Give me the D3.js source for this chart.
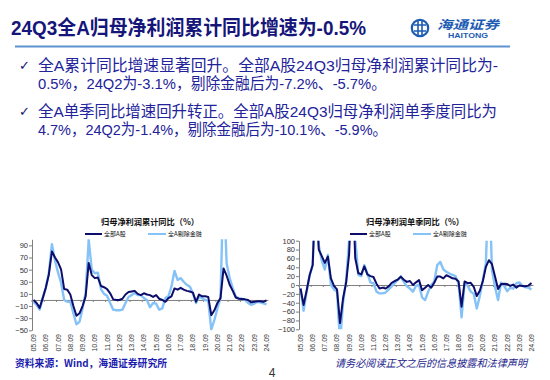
<!DOCTYPE html>
<html><head><meta charset="utf-8">
<script src="https://cdn.jsdelivr.net/npm/d3@7/dist/d3.min.js"></script>
<style>body{margin:0;background:#fff}svg{display:block}</style>
</head><body>
<svg id="c" width="550" height="380"></svg>
<script>
// ---------- DATA ----------
const pageTitle = "24Q3全A归母净利润累计同比增速为-0.5%";
const bulletLines = [
  "全A累计同比增速显著回升。全部A股24Q3归母净利润累计同比为-",
  "0.5%，24Q2为-3.1%，剔除金融后为-7.2%、-5.7%。",
  "全A单季同比增速回升转正。全部A股24Q3归母净利润单季度同比为",
  "4.7%，24Q2为-1.4%，剔除金融后为-10.1%、-5.9%。"
];
const seriesNames = ["全部A股", "全A剔除金融"];
const chartTitles = ["归母净利润累计同比（%）", "归母净利润单季同比（%）"];
const sourceText = "资料来源：Wind，海通证券研究所";
const disclaimer = "请务必阅读正文之后的信息披露和法律声明";
const pageNo = "4";

// quarter-end categories 05.09 ... 24.09
const categories = [];
for (let y = 5; y <= 24; y++) {
  for (const m of ["03", "06", "09", "12"]) {
    if ((y === 5 && (m === "03" || m === "06")) || (y === 24 && m === "12")) continue;
    categories.push(String(y).padStart(2, "0") + "." + m);
  }
}
const tickLabels = categories.filter(c => c.endsWith(".09"));
const leftTicks = [90, 70, 50, 30, 10, -10, -30, -50];
const rightTicks = [100, 80, 60, 40, 20, 0, -20, -40, -60, -80, -100];

// cumulative YoY (%)
const cumAll = [0,-5,-13,3,20,42,80,70,62,50,
  18,17,9,-10,-26,-22,-10,6,61,41,
  36,37,23,21,18,11,1,0,0,2,
  9,13,14,15,10,8,11,9,8,5,
  8,2,0,-3,3,6,19,17,20,17,
  15,14,12,-3,9,6,6,5,-25,-17,
  -5,3,52,40,25,15,4,2,1.5,1,
  0,-4,-3,-2,-2,-3.1,-0.5];
const cumExFin = [-3,-8,-16,3,20,45,92,65,45,28,
  0,-3,-3,-22,-40,-36,-14,12,99,50,
  44,45,18,10,7,-5,-16,-17,-17,-16,
  -5,5,8,12,8,8,3,0,-12,-5,
  -6,-16,-14,3,6,22,48,33,36,30,
  25,22,11,-5,5,3,0,-2,-49,-33,
  -14,3,200,60,36,19,5,3,2,0,
  -5,-8,-6,-3,-4,-5.7,-7.2];
// single-quarter YoY (%)
const qtrAll = [-8,-45,-13,22,45,220,80,65,50,64,
  15,-2,-10,-86,-30,5,70,250,61,27,
  24,42,24,20,18,3,-8,-6,-8,-3,
  5,9,12,19,12,7,9,0,6,11,
  -12,-6,0,-6,5,19,19,15,22,19,
  15,14,8,-49,8,4,5,-4,-25,-13,
  9,41,56,47,19,-9,2,3,2,-2,
  1,-6,-1,-2,-3,-1.4,4.7];
const qtrExFin = [-8,-58,-16,22,45,250,90,55,35,68,
  0,-10,-15,-130,-40,10,100,300,105,23,
  20,45,26,6,4,-15,-19,-19,-17,-10,
  -3,4,12,19,7,-3,-8,-15,-2,0,
  -28,-34,-15,0,8,45,52,35,30,26,
  23,20,3,-73,4,-2,-15,-20,-53,-25,
  11,50,250,34,-4,-34,5,-2,-14,-6,
  -8,4,6,-2,-5,-5.9,-10.1];

// ---------- DRAW ----------
const svg = d3.select("#c");
const FONT = "'Liberation Sans', Arial, 'Noto Sans CJK SC', sans-serif";
const CJK = "'Noto Sans CJK SC', 'Liberation Sans', sans-serif";
const navy = "#0d0d6b", light = "#85c2f7";

svg.append("rect").attr("width", 550).attr("height", 380).attr("fill", "#fff");

// header title
svg.append("text").attr("x", 11).attr("y", 35)
  .attr("font-family", FONT).attr("font-weight", "bold").attr("font-size", 20)
  .attr("fill", "#15157a").attr("textLength", 355).attr("lengthAdjust", "spacingAndGlyphs")
  .text(pageTitle);
svg.append("line").attr("x1", 15).attr("x2", 510).attr("y1", 46.5).attr("y2", 46.5)
  .attr("stroke", "#5f92d2").attr("stroke-width", 2);

// logo
const logo = svg.append("g");
logo.append("circle").attr("cx", 420).attr("cy", 28).attr("r", 8.2)
  .attr("fill", "none").attr("stroke", "#1c5cb2").attr("stroke-width", 2.2);
logo.append("path").attr("d", "M414,25 H426 M414,31 H426 M418,21 V35 M422,21 V35")
  .attr("stroke", "#1c5cb2").attr("stroke-width", 1.6).attr("fill", "none");
logo.append("text").attr("x", 437).attr("y", 29).attr("font-family", CJK)
  .attr("font-style", "italic").attr("font-weight", "bold").attr("font-size", 12)
  .attr("fill", "#1c5cb2").attr("textLength", 62).attr("lengthAdjust", "spacingAndGlyphs").text("海通证券");
logo.append("text").attr("x", 448).attr("y", 38).attr("font-family", FONT)
  .attr("font-weight", "bold").attr("font-size", 7).attr("fill", "#1c5cb2")
  .attr("textLength", 40).attr("lengthAdjust", "spacingAndGlyphs").text("HAITONG");

// bullets
const bulletY = [70.5, 88.5, 116.5, 134.5];
const bulletLen = [460, 348, 459, 349];
[0, 2].forEach(i => {
  svg.append("text").attr("x", 19).attr("y", bulletY[i] - 1)
    .attr("font-family", "'DejaVu Sans', sans-serif").attr("font-size", 13)
    .attr("fill", "#14146e").text("✓");
});
bulletLines.forEach((t, i) => {
  svg.append("text").attr("x", 38).attr("y", bulletY[i])
    .attr("font-family", FONT).attr("font-size", 15.5).attr("fill", "#22229a")
    .attr("textLength", bulletLen[i]).attr("lengthAdjust", "spacingAndGlyphs").text(t);
});

function drawChart(cfg) {
  const g = svg.append("g");
  const x = d3.scaleBand().domain(categories).range([cfg.x0, cfg.x1]).paddingInner(0).paddingOuter(0);
  const xc = c => x(c) + x.bandwidth() / 2;
  const y = d3.scaleLinear().domain(cfg.domain).range([cfg.yBottom, cfg.yTop]);

  const clipId = "clip" + cfg.id;
  g.append("clipPath").attr("id", clipId).append("rect")
    .attr("x", cfg.x0).attr("y", cfg.yTop).attr("width", cfg.x1 - cfg.x0).attr("height", cfg.yBottom - cfg.yTop);

  // y axis
  const ya = g.append("g").attr("transform", `translate(${cfg.x0},0)`)
    .call(d3.axisLeft(y).tickValues(cfg.ticks).tickSize(3).tickPadding(1).tickSizeOuter(0));
  ya.select(".domain").attr("stroke", "#7f7f7f");
  ya.selectAll(".tick line").attr("stroke", "#7f7f7f");
  ya.selectAll("text").attr("font-family", FONT).attr("font-size", 7.5).attr("fill", "#333");

  // zero axis with category ticks
  const xa = g.append("g").attr("transform", `translate(0,${y(0)})`)
    .call(d3.axisBottom(x).tickValues(tickLabels).tickSize(2).tickFormat("").tickSizeOuter(0));
  xa.select(".domain").attr("stroke", "#7f7f7f");
  xa.selectAll(".tick line").attr("stroke", "#7f7f7f").attr("transform", `translate(${-x.bandwidth() / 2},0)`);

  // x labels
  g.selectAll(".xl").data(tickLabels).join("text")
    .attr("transform", d => `translate(${xc(d)},${cfg.labelY}) rotate(-90)`)
    .attr("text-anchor", "end").attr("dy", "0.35em")
    .attr("font-family", FONT).attr("font-size", 7).attr("fill", "#333").text(d => d);

  const line = d3.line().x((d, i) => xc(categories[i])).y(d => y(d));
  const lines = g.append("g").attr("clip-path", `url(#${clipId})`);
  lines.append("path").attr("d", line(cfg.b)).attr("fill", "none")
    .attr("stroke", light).attr("stroke-width", 2.4).attr("stroke-linejoin", "round");
  lines.append("path").attr("d", line(cfg.a)).attr("fill", "none")
    .attr("stroke", navy).attr("stroke-width", 2).attr("stroke-linejoin", "round");

  // title
  g.append("text").attr("x", cfg.cx).attr("y", 225).attr("text-anchor", "middle")
    .attr("font-family", CJK).attr("font-weight", "bold").attr("font-size", 8.5)
    .attr("fill", "#111").attr("textLength", 98).attr("lengthAdjust", "spacingAndGlyphs").text(cfg.title);

  // legend
  const lg = g.append("g");
  const ly = 234;
  lg.append("line").attr("x1", cfg.cx - 65).attr("x2", cfg.cx - 48).attr("y1", ly).attr("y2", ly)
    .attr("stroke", navy).attr("stroke-width", 2);
  lg.append("text").attr("x", cfg.cx - 46).attr("y", ly).attr("dy", "0.35em")
    .attr("font-family", CJK).attr("font-size", 6).attr("fill", "#111").text(seriesNames[0]);
  lg.append("line").attr("x1", cfg.cx - 2).attr("x2", cfg.cx + 16).attr("y1", ly).attr("y2", ly)
    .attr("stroke", light).attr("stroke-width", 2);
  lg.append("text").attr("x", cfg.cx + 18).attr("y", ly).attr("dy", "0.35em")
    .attr("font-family", CJK).attr("font-size", 6).attr("fill", "#111").text(seriesNames[1]);
}

drawChart({id: "L", x0: 32, x1: 268, yTop: 239.3, yBottom: 330.3, domain: [-50, 100],
  ticks: leftTicks, a: cumAll, b: cumExFin, labelY: 334, cx: 150, title: chartTitles[0]});
drawChart({id: "R", x0: 299, x1: 533, yTop: 240.7, yBottom: 329.3, domain: [-100, 100],
  ticks: rightTicks, a: qtrAll, b: qtrExFin, labelY: 334, cx: 415, title: chartTitles[1]});

// footer
svg.append("text").attr("x", 15).attr("y", 367).attr("font-family", CJK)
  .attr("font-weight", "bold").attr("font-size", 10.5).attr("fill", "#1c1cae")
  .attr("textLength", 152).attr("lengthAdjust", "spacingAndGlyphs").text(sourceText);
svg.append("text").attr("x", 335).attr("y", 367).attr("font-family", CJK)
  .attr("font-style", "italic").attr("font-size", 10.5).attr("fill", "#1d1d8c")
  .attr("textLength", 192).attr("lengthAdjust", "spacingAndGlyphs").text(disclaimer);
svg.append("text").attr("x", 272).attr("y", 377).attr("text-anchor", "middle")
  .attr("font-family", FONT).attr("font-size", 12).attr("fill", "#333").text(pageNo);
</script>
</body></html>
